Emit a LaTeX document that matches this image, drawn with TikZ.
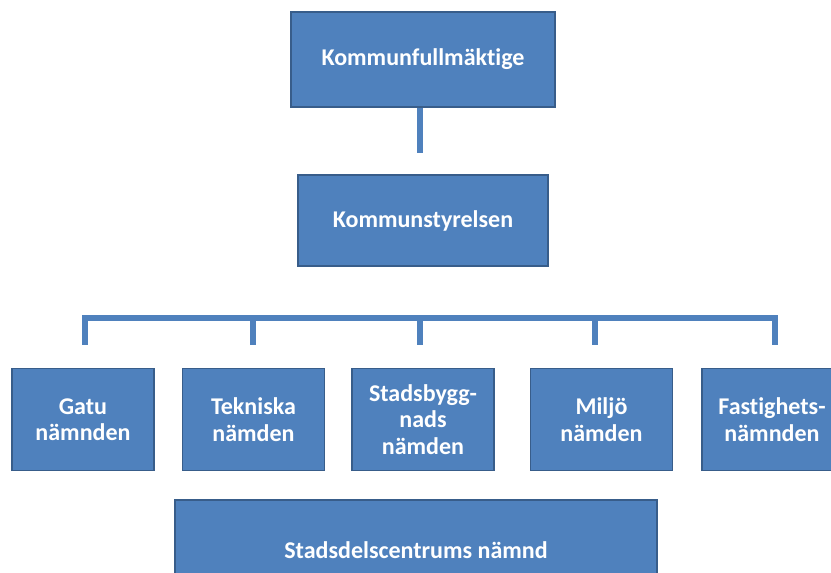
\documentclass[tikz,border=0pt]{standalone}
\usepackage{fontspec}
\setmainfont{Carlito}[Ligatures=NoCommon]
\definecolor{orgfill}{HTML}{4F81BD}
\definecolor{orgedge}{HTML}{385D8A}
\tikzset{
  orgbox/.style={draw=orgedge,line width=1.2pt,fill=orgfill,text=white,
    font=\fontsize{20.5}{22.5}\selectfont\bfseries,align=center,inner sep=0pt},
  orglink/.style={draw=orgfill,line width=4.3pt}
}
\begin{document}
\begin{tikzpicture}[x=0.03cm,y=-0.03cm]
\useasboundingbox[fill=white] (0,0) rectangle (831,573);
% top levels
\node[orgbox,minimum width=264*0.03cm,minimum height=95*0.03cm] (kf) at (423,59.5) {Kommunfullmäktige};
\node[orgbox,minimum width=250*0.03cm,minimum height=91*0.03cm] (ks) at (423,220.5) {Kommunstyrelsen};
% committees
\node[orgbox,minimum width=142*0.03cm,minimum height=102*0.03cm] (gatu) at (83,419.5) {Gatu\\nämnden};
\node[orgbox,minimum width=142*0.03cm,minimum height=102*0.03cm] (tekn) at (253.5,419.5) {Tekniska\\nämden};
\node[orgbox,minimum width=142*0.03cm,minimum height=102*0.03cm] (stad) at (423,419.5) {Stadsbygg-\\nads\\nämden};
\node[orgbox,minimum width=142*0.03cm,minimum height=102*0.03cm] (milj) at (601.5,419.5) {Miljö\\nämden};
\node[orgbox,minimum width=140*0.03cm,minimum height=102*0.03cm] (fast) at (772,419.5) {Fastighets-\\nämnden};
\node[orgbox,minimum width=482*0.03cm,minimum height=100*0.03cm] (sdc) at (416,550) {Stadsdelscentrums nämnd};
% free ends of the links
\coordinate (kfend) at (420,153);
\coordinate (bar) at (0,318);
\coordinate (d1) at (85,345);
\coordinate (d2) at (253,345);
\coordinate (d3) at (420,345);
\coordinate (d4) at (595,345);
\coordinate (d5) at (775,345);
\draw[orglink] (kfend |- kf.south) -- (kfend);
\draw[orglink,line join=miter] (d1) -- (d1 |- bar) -| (d5);
\draw[orglink] (d2) -- (d2 |- bar);
\draw[orglink] (d3) -- (d3 |- bar);
\draw[orglink] (d4) -- (d4 |- bar);
\end{tikzpicture}
\end{document}
